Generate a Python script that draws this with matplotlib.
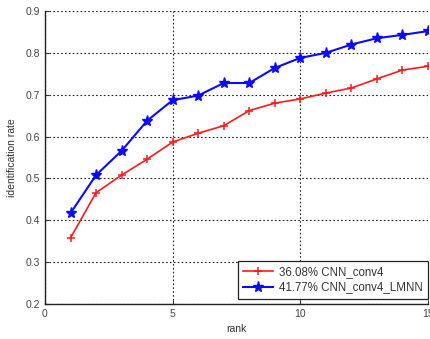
import matplotlib
matplotlib.use("Agg")
import matplotlib.pyplot as plt

rank = list(range(1, 16))
cnn_conv4 = [0.358, 0.466, 0.508, 0.546, 0.587, 0.608, 0.626, 0.662, 0.68, 0.69,
             0.704, 0.716, 0.738, 0.759, 0.768]
cnn_conv4_lmnn = [0.417, 0.508, 0.566, 0.638, 0.687, 0.698, 0.728, 0.728, 0.764, 0.788,
                  0.80, 0.82, 0.835, 0.843, 0.852]
labels = ["36.08% CNN_conv4", "41.77% CNN_conv4_LMNN"]
xticks = [0, 5, 10, 15]
yticks = [0.2, 0.3, 0.4, 0.5, 0.6, 0.7, 0.8, 0.9]

plt.rcParams["font.family"] = ["Arial", "Liberation Sans", "DejaVu Sans"]

fig = plt.figure(figsize=(4.31, 3.39), dpi=100)
ax = fig.add_axes([0.1044, 0.1032, 0.8886, 0.8643])

ax.plot(rank, cnn_conv4, color="#ff1a1a", marker="+", markersize=6, mew=1.1,
        linewidth=1.2, label=labels[0])
ax.plot(rank, cnn_conv4_lmnn, color="#0a0aff", marker="*", markersize=8,
        linewidth=1.5, label=labels[1])

ax.set_xlim(0, 15)
ax.set_ylim(0.2, 0.9)
ax.set_xticks(xticks)
ax.set_yticks(yticks)
ax.set_yticklabels([f"{v:.1f}" for v in yticks])
ax.tick_params(labelsize=7.5, colors="#333333", length=3, direction="in",
               width=0.8)
ax.tick_params(axis="both", labelcolor="#444444")
ax.grid(True, linestyle=(0, (1.5, 2)), color="#222222", linewidth=0.8)
for s in ["top", "right"]:
    ax.spines[s].set_visible(False)
for s in ["left", "bottom"]:
    ax.spines[s].set_linewidth(1.0)
    ax.spines[s].set_color("#222222")

ax.set_xlabel("rank", fontsize=7.5, color="#333333", labelpad=4)
ax.set_ylabel("identification rate", fontsize=7.5, color="#333333", labelpad=6)

leg = ax.legend(loc="lower right", fontsize=8.3, fancybox=False, framealpha=1,
                edgecolor="#222222", borderpad=0.45, handlelength=2.6,
                handletextpad=0.5, labelspacing=0.3, borderaxespad=0,
                bbox_to_anchor=(1.0, 0.018))
leg.get_frame().set_linewidth(0.9)
for t in leg.get_texts():
    t.set_color("#333333")

fig.savefig("out.png", dpi=100)
